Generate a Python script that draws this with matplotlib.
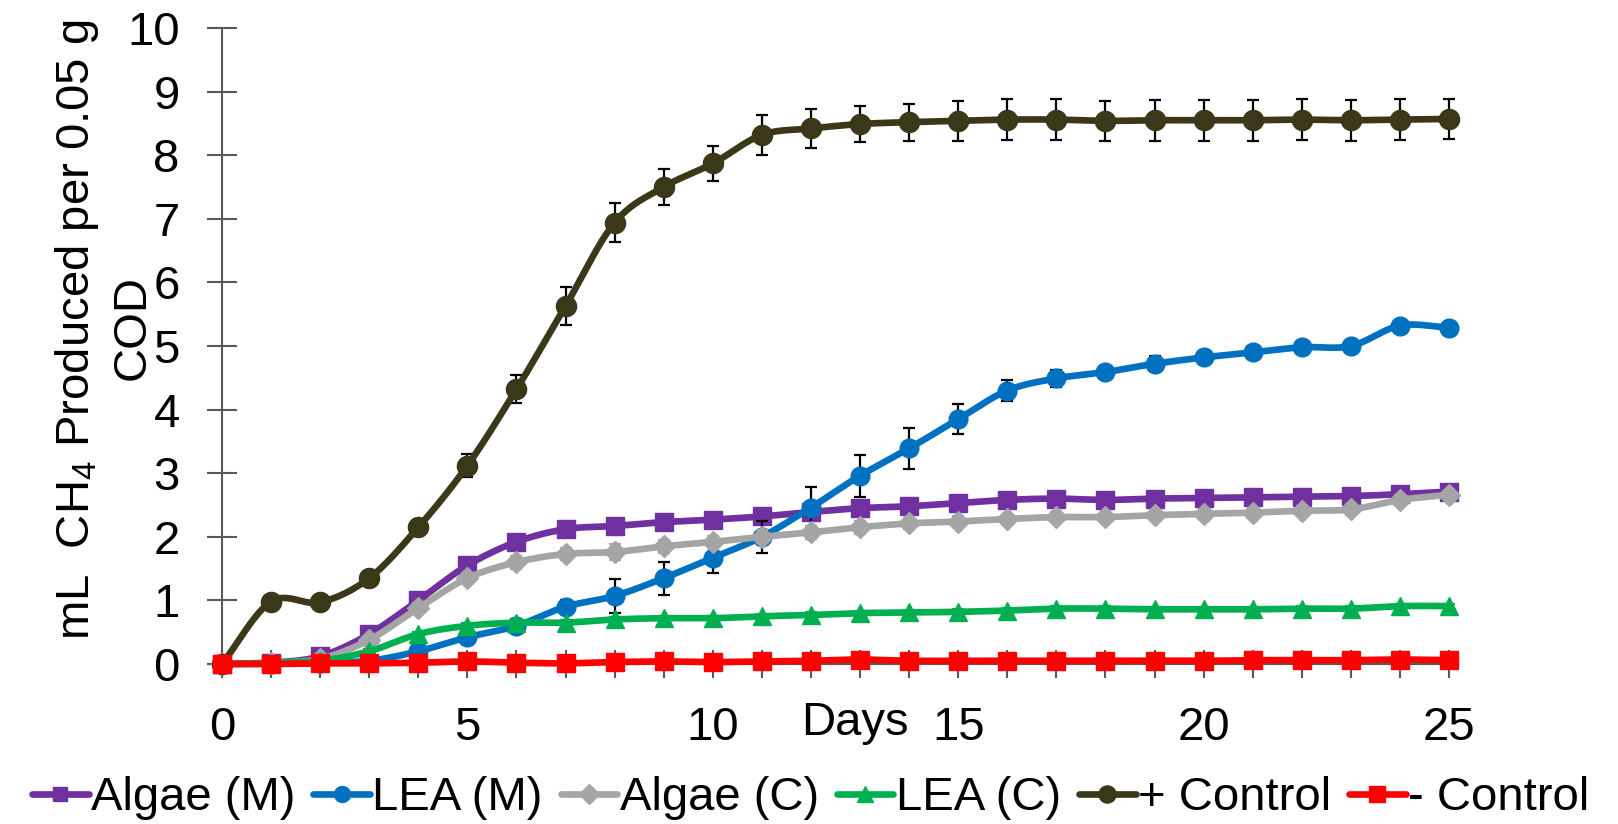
import numpy as np
import matplotlib
matplotlib.use("Agg")
import matplotlib.pyplot as plt
from matplotlib.lines import Line2D

plt.rcParams['font.family'] = ['Liberation Sans', 'DejaVu Sans']
plt.rcParams['mathtext.fontset'] = 'custom'
plt.rcParams['mathtext.rm'] = 'Liberation Sans'
plt.rcParams['mathtext.it'] = 'Liberation Sans'
plt.rcParams['mathtext.default'] = 'regular'

days = list(range(0, 26))

algae_m = [0, 0.02, 0.12, 0.47, 1.00, 1.55, 1.92, 2.12, 2.17, 2.23, 2.27, 2.32, 2.39, 2.45,
           2.48, 2.53, 2.58, 2.60, 2.58, 2.60, 2.61, 2.62, 2.63, 2.64, 2.67, 2.71]
lea_m = [0, 0.0, 0.02, 0.05, 0.20, 0.42, 0.60, 0.90, 1.07, 1.35, 1.67, 2.00, 2.46, 2.96,
         3.39, 3.85, 4.30, 4.49, 4.59, 4.72, 4.82, 4.90, 4.98, 5.00, 5.32, 5.29]
algae_c = [0, 0.02, 0.08, 0.38, 0.88, 1.35, 1.60, 1.73, 1.76, 1.85, 1.92, 2.00, 2.07, 2.15,
           2.21, 2.24, 2.28, 2.31, 2.31, 2.34, 2.36, 2.38, 2.41, 2.43, 2.58, 2.66]
lea_c = [0, 0.02, 0.05, 0.20, 0.47, 0.60, 0.65, 0.65, 0.70, 0.72, 0.72, 0.75, 0.77, 0.80,
         0.81, 0.82, 0.84, 0.87, 0.87, 0.86, 0.86, 0.86, 0.87, 0.87, 0.91, 0.91]
pos_ctrl = [0, 0.98, 0.97, 1.35, 2.15, 3.12, 4.32, 5.63, 6.94, 7.50, 7.87, 8.32, 8.42, 8.49,
            8.52, 8.54, 8.56, 8.56, 8.54, 8.55, 8.55, 8.55, 8.56, 8.55, 8.56, 8.57]
neg_ctrl = [0, 0.0, 0.01, 0.01, 0.02, 0.04, 0.02, 0.01, 0.03, 0.04, 0.03, 0.04, 0.05, 0.07,
            0.05, 0.05, 0.05, 0.05, 0.05, 0.05, 0.05, 0.06, 0.06, 0.06, 0.07, 0.06]

algae_m_err = [0, 0.01, 0.02, 0.03, 0.03, 0.04, 0.04, 0.04, 0.04, 0.04, 0.04, 0.04, 0.04, 0.04,
               0.04, 0.04, 0.04, 0.04, 0.04, 0.04, 0.04, 0.04, 0.04, 0.04, 0.04, 0.04]
lea_m_err = [0, 0.0, 0.01, 0.02, 0.04, 0.10, 0.10, 0.11, 0.27, 0.26, 0.24, 0.25, 0.32, 0.33,
             0.32, 0.24, 0.17, 0.14, 0.10, 0.12, 0.05, 0.05, 0.05, 0.05, 0.05, 0.05]
algae_c_err = [0, 0.01, 0.02, 0.05, 0.08, 0.08, 0.10, 0.10, 0.12, 0.10, 0.10, 0.10, 0.10, 0.10,
               0.08, 0.08, 0.08, 0.08, 0.08, 0.08, 0.08, 0.08, 0.08, 0.08, 0.08, 0.08]
lea_c_err = [0, 0.01, 0.01, 0.03, 0.04, 0.04, 0.04, 0.04, 0.04, 0.04, 0.04, 0.04, 0.04, 0.04,
             0.04, 0.04, 0.04, 0.04, 0.04, 0.04, 0.04, 0.04, 0.04, 0.04, 0.04, 0.04]
pos_ctrl_err = [0, 0.09, 0.09, 0.10, 0.12, 0.18, 0.22, 0.30, 0.31, 0.29, 0.27, 0.31, 0.30, 0.29,
                0.29, 0.31, 0.32, 0.32, 0.32, 0.32, 0.32, 0.32, 0.32, 0.32, 0.32, 0.31]
neg_ctrl_err = [0, 0.01, 0.02, 0.02, 0.03, 0.04, 0.04, 0.04, 0.05, 0.06, 0.06, 0.06, 0.07, 0.07,
                0.07, 0.07, 0.08, 0.08, 0.08, 0.09, 0.09, 0.10, 0.10, 0.10, 0.11, 0.11]

labels = ['Algae (M)', 'LEA (M)', 'Algae (C)', 'LEA (C)', '+ Control', '- Control']
colors = ['#7030A0', '#0070C0', '#A5A5A5', '#00B050', '#3B381A', '#FF0000']
err_colors = ['#7030A0', 'black', '#A5A5A5', '#00B050', 'black', '#7F7F7F']
markers = ['s', 'o', 'D', '^', 'o', 's']
msizes = [12.5, 13.5, 11.5, 13.5, 14.5, 13]

FS = 34


def smooth(x, y, n=24):
    x = np.asarray(x, float)
    y = np.asarray(y, float)
    px = np.concatenate([[2 * x[0] - x[1]], x, [2 * x[-1] - x[-2]]])
    py = np.concatenate([[2 * y[0] - y[1]], y, [2 * y[-1] - y[-2]]])
    ox, oy = [], []
    t = np.linspace(0, 1, n, endpoint=False)
    for i in range(1, len(px) - 2):
        p0 = np.array([px[i - 1], py[i - 1]])
        p1 = np.array([px[i], py[i]])
        p2 = np.array([px[i + 1], py[i + 1]])
        p3 = np.array([px[i + 2], py[i + 2]])
        c1 = p1 + (p2 - p0) / 6.0
        c2 = p2 - (p3 - p1) / 6.0
        b = ((1 - t) ** 3)[:, None] * p1 + (3 * (1 - t) ** 2 * t)[:, None] * c1 + \
            (3 * (1 - t) * t ** 2)[:, None] * c2 + (t ** 3)[:, None] * p2
        ox.extend(b[:, 0])
        oy.extend(b[:, 1])
    ox.append(x[-1])
    oy.append(y[-1])
    return np.array(ox), np.array(oy)


fig = plt.figure(figsize=(16.18, 8.24), dpi=100)
ax = fig.add_axes([0.1372, 0.1942, 0.7584, 0.7718])

series = [algae_m, lea_m, algae_c, lea_c, pos_ctrl, neg_ctrl]
errs = [algae_m_err, lea_m_err, algae_c_err, lea_c_err, pos_ctrl_err, neg_ctrl_err]

handles = []
for k, (ys, es) in enumerate(zip(series, errs)):
    z = 3 + k
    ax.errorbar(days, ys, yerr=es, fmt='none', ecolor=err_colors[k], elinewidth=1.6,
                capsize=4.5, capthick=1.6, zorder=z, clip_on=False)
    sx, sy = smooth(days, ys)
    ax.plot(sx, sy, color=colors[k], lw=4.8, zorder=z + 0.1, clip_on=False,
            solid_capstyle='round')
    ax.plot(days, ys, ls='none', marker=markers[k], ms=msizes[k], color=colors[k],
            mec=colors[k], zorder=z + 0.2, clip_on=False)
    handles.append(Line2D([], [], color=colors[k], lw=4.8, marker=markers[k],
                          ms=msizes[k] * 0.85, mec=colors[k], solid_capstyle='round'))

ax.set_xlim(0, 25)
ax.set_ylim(0, 10)
for s in ['top', 'right']:
    ax.spines[s].set_visible(False)
for s in ['left', 'bottom']:
    ax.spines[s].set_color('#595959')
    ax.spines[s].set_linewidth(1.5)

ax.set_yticks(range(0, 11))
ax.set_xticks(days)
ax.set_xticklabels([str(d) if d % 5 == 0 else '' for d in days])
ax.tick_params(axis='both', direction='inout', length=21, width=1.5, color='#595959',
               labelsize=FS, pad=20)
ax.tick_params(axis='x', length=20)

ax.text(12.9, -0.93, 'Days', ha='center', va='center', fontsize=FS)

fig.text(77 / 1618, 0.5995, 'mL  CH$_4$ Produced per 0.05 g', rotation=90,
         ha='center', va='center', fontsize=FS)
fig.text(133 / 1618, 0.602, 'COD', rotation=90,
         ha='center', va='center', fontsize=FS)

fig.legend(handles, labels, loc='center', bbox_to_anchor=(0.501, 0.031), ncol=6,
           frameon=False, fontsize=FS, handlelength=1.2, handletextpad=0.05,
           columnspacing=0.38, borderaxespad=0, borderpad=0)

fig.savefig('out.png', dpi=100)
